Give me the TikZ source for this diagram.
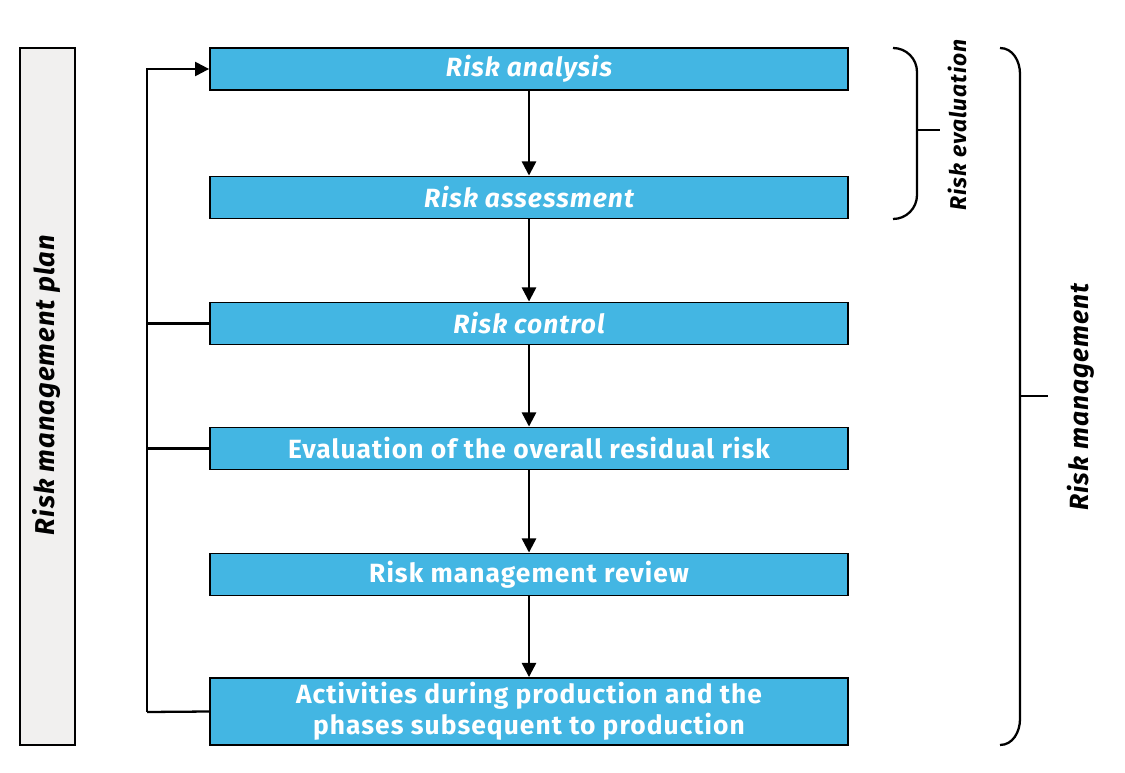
\documentclass[tikz,border=0pt]{standalone}
\usepackage{fontspec}
\setmainfont{Fira Sans}[LetterSpace=4]
\usetikzlibrary{arrows.meta}
\definecolor{boxblue}{HTML}{43B6E3}
\definecolor{bargrey}{HTML}{F1F0EF}
\tikzset{
  stepbox/.style={draw=black, line width=1.1pt, fill=boxblue, text=white,
    minimum width=12.76cm, minimum height=0.84cm, inner sep=0pt, align=center,
    font=\fontsize{15}{17.5}\selectfont\bfseries},
  flow/.style={line width=1.3pt, -{Triangle[length=8pt,width=8pt]}},
  link/.style={line width=1.3pt},
  sidelabel/.style={rotate=90, font=\fontsize{15}{17}\selectfont\bfseries\itshape}
}
\begin{document}
\begin{tikzpicture}[x=0.02cm,y=-0.02cm]
  \useasboundingbox (0,0) rectangle (1125,773);
  % plan bar
  \node[draw=black, line width=1.4pt, fill=bargrey, minimum width=1.1cm, minimum height=13.94cm,
        inner sep=0pt] (P) at (47.5,396.5){};
  \node[sidelabel, font=\fontsize{15.5}{17}\selectfont\bfseries\itshape] (Pt) at (47,385){Risk management plan};
  % process boxes
  \node[stepbox] (A) at (529,69){\itshape Risk analysis};
  \node[stepbox] (B) at (529,197.5){\itshape Risk assessment};
  \node[stepbox] (C) at (529,323.5){\itshape Risk control};
  \node[stepbox] (D) at (529,448.5){Evaluation of the overall residual risk};
  \node[stepbox] (E) at (529,574.5){Risk management review};
  \node[stepbox, minimum height=1.34cm] (F) at (529,711.5){Activities during production and the\\phases subsequent to production};
  \draw[flow] (A) -- (B);
  \draw[flow] (B) -- (C);
  \draw[flow] (C) -- (D);
  \draw[flow] (D) -- (E);
  \draw[flow] (E) -- (F);
  % feedback loop
  \coordinate (L) at (147,712);
  \draw[link] (F.west) -- (L);
  \draw[flow] (L) |- (A.west);
  \draw[link] (C.west) -- (L |- C.west);
  \draw[link] (D.west) -- (L |- D.west);
  % brackets
  \draw[link] (893,48) to[out=0,in=90] (917,72) -- (917,195) to[out=-90,in=0] (893,219);
  \draw[link] (917,130) -- (940,130);
  \node[sidelabel, font=\fontsize{13}{15}\selectfont\bfseries\itshape] (RE) at (957,125){Risk evaluation};
  \draw[link] (1000,48) to[out=0,in=90] (1020,74) -- (1020,719) to[out=-90,in=0] (1000,745);
  \draw[link] (1020,396) -- (1048,396);
  \node[sidelabel] (RM) at (1081,397){Risk management};
\end{tikzpicture}
\end{document}
